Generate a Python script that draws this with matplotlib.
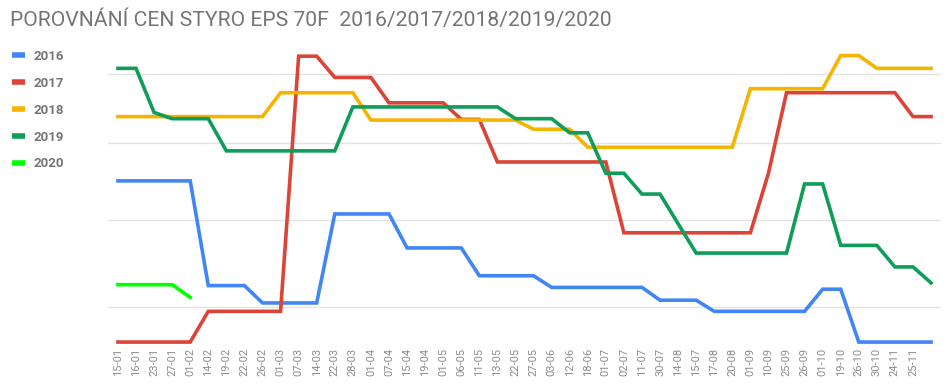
import matplotlib
matplotlib.use("Agg")
import matplotlib.pyplot as plt
from matplotlib.lines import Line2D

# data (arbitrary price units, log axis)
dates = ["15-01", "16-01", "23-01", "27-01", "01-02", "14-02", "19-02", "22-02",
         "26-02", "01-03", "07-03", "14-03", "22-03", "28-03", "01-04", "07-04",
         "15-04", "19-04", "01-05", "06-05", "11-05", "13-05", "22-05", "27-05",
         "03-06", "12-06", "18-06", "01-07", "02-07", "11-07", "30-07", "14-08",
         "15-07", "17-08", "20-08", "01-09", "10-09", "25-09", "26-09", "01-10",
         "19-10", "26-10", "30-10", "24-11", "25-11", ""]

y2016 = [849, 849, 849, 849, 849, 723, 723, 723, 704, 704, 704, 704, 807, 807,
         807, 807, 766, 766, 766, 766, 734, 734, 734, 734, 721, 721, 721, 721,
         721, 721, 707, 707, 707, 695, 695, 695, 695, 695, 695, 719, 719, 663,
         663, 663, 663, 663]
y2017 = [663, 663, 663, 663, 663, 695, 695, 695, 695, 695, 1028, 1028, 995, 995,
         995, 957, 957, 957, 957, 933, 933, 874, 874, 874, 874, 874, 874, 874,
         784, 784, 784, 784, 784, 784, 784, 784, 859, 972, 972, 972, 972, 972,
         972, 972, 937, 937]
y2018 = [937, 937, 937, 937, 937, 937, 937, 937, 937, 972, 972, 972, 972, 972,
         932, 932, 932, 932, 932, 932, 932, 932, 932, 919, 919, 919, 894, 894,
         894, 894, 894, 894, 894, 894, 894, 978, 978, 978, 978, 978, 1029, 1029,
         1009, 1009, 1009, 1009]
y2019 = [1009, 1009, 943, 934, 934, 934, 889, 889, 889, 889, 889, 889, 889, 951,
         951, 951, 951, 951, 951, 951, 951, 951, 934, 934, 934, 914, 914, 859,
         859, 832, 832, 795, 760, 760, 760, 760, 760, 760, 845, 845, 769, 769,
         769, 744, 744, 726]
y2020 = [724, 724, 724, 724, 710]

series = [("2016", y2016, "#4285f4"),
          ("2017", y2017, "#db4437"),
          ("2018", y2018, "#f4b400"),
          ("2019", y2019, "#0f9d58"),
          ("2020", y2020, "#00ff00")]

grid_vals = [700, 800, 900, 1000]

fig = plt.figure(figsize=(9.48, 3.92), dpi=100)
ax = fig.add_axes([108 / 948, 46 / 392, 833 / 948, 298 / 392])

for name, vals, col in series:
    ax.plot(range(len(vals)), vals, color=col, lw=2.6, solid_joinstyle="miter")

ax.set_yscale("log")
ax.set_ylim(659, 1041)
ax.set_xlim(-0.55, len(dates) - 0.45)
ax.set_yticks(grid_vals)
ax.yaxis.set_minor_locator(matplotlib.ticker.NullLocator())
ax.set_yticklabels([])
ax.grid(axis="y", color="#e3e3e3", lw=1)
ax.set_axisbelow(True)

ax.set_xticks(range(len(dates)))
ax.set_xticklabels(dates, rotation=90, family="Roboto", fontsize=8, color="#8c8c8c")
ax.tick_params(length=0, pad=1.5)
for s in ax.spines.values():
    s.set_visible(False)

fig.text(10 / 948, 1 - 20 / 392, "POROVNÁNÍ CEN STYRO EPS 70F  2016/2017/2018/2019/2020",
         va="center", ha="left", fontsize=15.2, color="#757575", family="Roboto")

handles = [Line2D([], [], color=c, lw=4, solid_capstyle="butt") for _, _, c in series]
fig.legend(handles, [n for n, _, _ in series], loc="upper left",
           bbox_to_anchor=(12 / 948, 1 - 50 / 392), frameon=False,
           borderpad=0, borderaxespad=0, handlelength=1.0, handletextpad=0.6,
           labelspacing=1.05, labelcolor="#757575",
           prop=dict(family="Roboto", weight="bold", size=9.5))

fig.savefig("out.png", dpi=100)
